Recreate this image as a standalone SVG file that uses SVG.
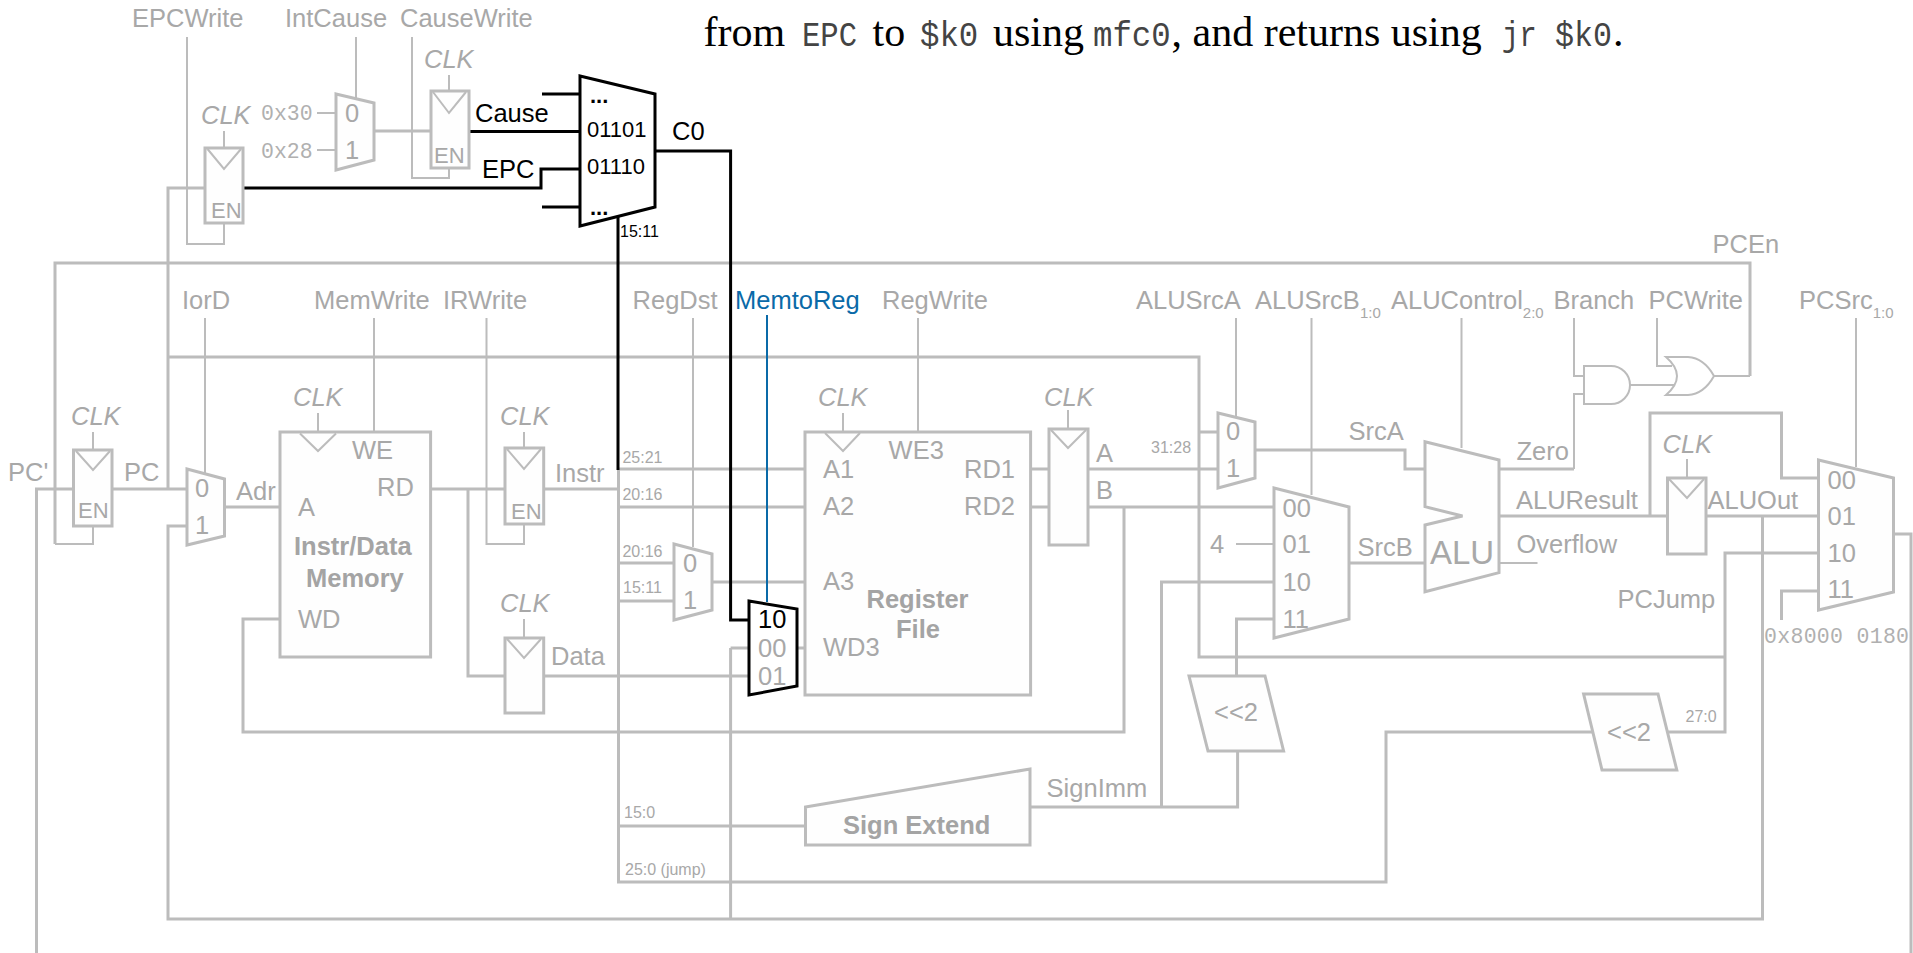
<svg xmlns="http://www.w3.org/2000/svg" width="1913" height="953" viewBox="0 0 1913 953">
<style>
text{font-family:"Liberation Sans",Arial,sans-serif;font-size:25.5px;fill:#a8a8a8}
.b{font-weight:bold;fill:#a4a4a4}
.i{font-style:italic}
.k{fill:#000}
.s{font-size:16px}
.u{font-size:15px}
.m{font-family:"Liberation Mono",monospace;font-size:21.5px;fill:#b0b0b0}
.n{font-size:22px}
.h{font-family:"Liberation Serif",serif;font-size:42px;fill:#000}
.hm{font-family:"Liberation Mono",monospace;font-size:36px;fill:#444}
.w{fill:none;stroke:#bcbcbc;stroke-width:3}
.c{fill:none;stroke:#bcbcbc;stroke-width:2}
.bk{fill:none;stroke:#000;stroke-width:3}
.sh{fill:#fefefe;stroke:#bcbcbc;stroke-width:3}
.sk{fill:#fff;stroke:#000;stroke-width:3}
.t{fill:none;stroke:#bcbcbc;stroke-width:2}
</style>
<rect width="1913" height="953" fill="#fff"/>
<g id="caption">
<text class="h" x="703.6" y="45.7">from</text>
<text class="hm" transform="translate(802 45.7) scale(.85 1)">EPC</text>
<text class="h" x="872.6" y="45.7">to</text>
<text class="hm" transform="translate(920 45.7) scale(.9 1)">$k0</text>
<text class="h" x="993" y="45.7">using</text>
<text class="hm" transform="translate(1093 45.7) scale(.9 1)">mfc0</text>
<text class="h" x="1171.5" y="45.7">, and returns using</text>
<text class="hm" transform="translate(1501.7 45.7) scale(.81 1)">jr</text>
<text class="hm" transform="translate(1555 45.7) scale(.88 1)">$k0</text>
<text class="h" x="1613" y="45.7">.</text>
</g>
<g id="connectors">
<path class="c" d="M187 37V244H224V224M356 37V98M412 37V178H449V168M224 131V148M449 75V91M93 432V450M55 544H93V526M205 318V473M374 318V432M318 413V432M486.5 318V544H524V524M524 432V448M524 619V638M693 318V547M918 318V432M843 413V432M1068 410V429M1236 318V417M1311.5 318V495M1461.5 318V448M1687 459V478M1856 318V467M1574 318V376H1584M1657 318V366H1672M1630 385H1675M1714 376H1750M317 113H336M317 150H336M1236 544H1274M1499 563H1537.5M1574 469V394H1584"/>
<path class="w" d="M36.5 953V489H73.5M112 489H187M168 489V188H205M374 131H431M187 526H168V919H1762.5V516M224.5 507H280M430.6 489H505M468 489V676H505M543.7 489H618.5M618.5 469V882H1386V732H1592M1667 732H1725V553H1818M618.5 469H805M618.5 507H805M618.5 563H674M618.5 601H674M712 582H805M618.5 826H805M543.7 676H749M730.6 648V919M730.6 648H749M797 648H805M280 619H243V732H1124V507M1030.6 469H1049M1030.6 507H1049M1088 469H1218M1088 507H1274M1750 376V263H55V544M168 357H1199V657H1725M1199 432H1218M1255 450H1405V469H1425M1349 563H1425M1161.5 807V582H1274M1236.5 676V619H1274M1030 807H1237.6V751M1499 469H1574M1499 516H1667.5M1650 516V413H1781.5V478H1818M1706 516H1818M1781.5 620V591H1818M1893.5 534H1911V953"/>
<path d="M767 315V602" fill="none" stroke="#0a6aa8" stroke-width="2"/>
<path class="bk" d="M243 188H541V169H580M469 131.5H580M542 94H580M542 207H580M655 151H730.6V620H749M618 217V470"/>
</g>
<g id="sig-labels">
<text x="132" y="27">EPCWrite</text><text x="285" y="27">IntCause</text><text x="400" y="27">CauseWrite</text>
<text x="182" y="309">IorD</text><text x="314" y="309">MemWrite</text><text x="443" y="309">IRWrite</text>
<text x="632.6" y="309">RegDst</text><text x="735" y="309" style="fill:#0a6aa8">MemtoReg</text><text x="882" y="309">RegWrite</text>
<text x="1136" y="309">ALUSrcA</text><text x="1255" y="309">ALUSrcB<tspan class="u" dy="9">1:0</tspan></text><text x="1391" y="309">ALUControl<tspan class="u" dy="9">2:0</tspan></text>
<text x="1553.5" y="309">Branch</text><text x="1648.5" y="309">PCWrite</text><text x="1799" y="309">PCSrc<tspan class="u" dy="9">1:0</tspan></text><text x="1712.5" y="253">PCEn</text>
<text x="8" y="481">PC'</text><text x="124" y="481">PC</text><text x="236" y="500">Adr</text><text x="555" y="482">Instr</text><text x="551" y="665">Data</text>
<text class="s" x="622.4" y="463">25:21</text><text class="s" x="622.4" y="500">20:16</text><text class="s" x="622.4" y="557">20:16</text><text class="s" x="623" y="593">15:11</text><text class="s" x="624" y="818">15:0</text><text class="s" x="625" y="875">25:0 (jump)</text><text class="s" x="1151" y="453">31:28</text><text class="s" x="1685.5" y="722">27:0</text>
<text x="1096" y="462">A</text><text x="1096" y="499">B</text>
<text x="1348.5" y="440">SrcA</text><text x="1357.5" y="556">SrcB</text><text x="1516.5" y="460">Zero</text><text x="1516" y="509">ALUResult</text><text x="1516.5" y="553">Overflow</text><text x="1707.5" y="509">ALUOut</text><text x="1617.5" y="608">PCJump</text><text x="1046.6" y="797">SignImm</text>
<text class="m" x="261" y="120">0x30</text><text class="m" x="261" y="158">0x28</text><text class="m" x="1764" y="643" textLength="145">0x8000 0180</text><text x="1210" y="553">4</text>
</g>
<g id="reg-epc"><rect class="sh" x="205" y="148" width="38" height="75"/><path class="t" d="M207.5 149L224 169L241 149"/><text class="i" x="201" y="124">CLK</text><text class="n" x="211" y="218">EN</text></g>
<g id="mux-intcause"><path class="sh" d="M336 94L374 103V160L336 170Z"/><text x="345" y="122">0</text><text x="345" y="159">1</text></g>
<g id="reg-cause"><rect class="sh" x="431" y="91" width="38" height="77"/><path class="t" d="M433 92L449 113L466 92"/><text class="i" x="424" y="68">CLK</text><text class="n" x="434" y="163">EN</text></g>
<g id="cop0-mux"><path class="sk" d="M580 76L655 94V207L580 226Z"/><text class="k n" x="590" y="103" style="font-weight:bold">...</text><text class="k n" x="590" y="215" style="font-weight:bold">...</text><text class="k" x="587" y="137" style="font-size:22px">01101</text><text class="k" x="587" y="174" style="font-size:22px">01110</text><text class="k s" x="620" y="237">15:11</text></g>
<text class="k" x="475" y="122">Cause</text><text class="k" x="482" y="178">EPC</text><text class="k" x="672" y="140">C0</text>
<g id="reg-pc"><rect class="sh" x="73.5" y="450" width="38.5" height="76"/><path class="t" d="M76 451L93 470L110 451"/><text class="i" x="71" y="425">CLK</text><text class="n" x="78" y="518">EN</text></g>
<g id="mux-iord"><path class="sh" d="M187 469L224.5 479V536L187 545Z"/><text x="195" y="497">0</text><text x="195" y="534">1</text></g>
<g id="memory"><rect class="sh" x="280" y="432" width="150.6" height="225"/><path class="t" d="M300 433.5L318 451L336 433.5"/><text class="i" x="293" y="406">CLK</text><text x="352" y="459">WE</text><text x="377" y="496">RD</text><text x="298" y="516">A</text><text x="298" y="628">WD</text><text class="b" x="294" y="555">Instr/Data</text><text class="b" x="306" y="587">Memory</text></g>
<g id="reg-instr"><rect class="sh" x="505" y="448" width="38.7" height="76"/><path class="t" d="M507 449L524 469L541 449"/><text class="i" x="500" y="425">CLK</text><text class="n" x="511" y="519">EN</text></g>
<g id="reg-data"><rect class="sh" x="505" y="638" width="38.7" height="75"/><path class="t" d="M507 639L524 658L541 639"/><text class="i" x="500" y="612">CLK</text></g>
<g id="mux-regdst"><path class="sh" d="M674 544L712 554V610L674 620Z"/><text x="683" y="572">0</text><text x="683" y="609">1</text></g>
<g id="regfile"><rect class="sh" x="805" y="432" width="225.6" height="263"/><path class="t" d="M825 433L843 451L860 433"/><text class="i" x="818" y="406">CLK</text><text x="888.6" y="459">WE3</text><text x="823" y="478">A1</text><text x="823" y="515">A2</text><text x="823" y="590">A3</text><text x="823" y="656">WD3</text><text x="964" y="478">RD1</text><text x="964" y="515">RD2</text><text class="b" x="866.5" y="608">Register</text><text class="b" x="896" y="638">File</text></g>
<g id="mux-memtoreg"><path class="sk" d="M749 601L797 609V686L749 695Z"/><text class="k" x="758" y="628">10</text><text x="758" y="657">00</text><text x="758" y="685">01</text></g>
<g id="reg-ab"><rect class="sh" x="1049" y="429" width="39" height="116"/><path class="t" d="M1051 430L1068 448L1086 430"/><text class="i" x="1044" y="406">CLK</text></g>
<g id="mux-alusrca"><path class="sh" d="M1218 413L1255 422V478L1218 488Z"/><text x="1226" y="440">0</text><text x="1226" y="477">1</text></g>
<g id="mux-alusrcb"><path class="sh" d="M1274 488L1349 507V619L1274 638Z"/><text x="1282.5" y="517">00</text><text x="1282.5" y="553">01</text><text x="1282.5" y="591">10</text><text x="1282.5" y="628">11</text></g>
<g id="alu"><path class="sh" d="M1425 441.7L1499 460V572.7L1425 591.7V525L1462.5 516L1425 506.7Z"/><text x="1430" y="564" style="font-size:33px">ALU</text></g>
<g id="and-gate"><path class="t" d="M1584 366H1611A19 19 0 0 1 1611 404H1584Z"/></g>
<g id="or-gate"><path class="t" d="M1666 357Q1688 376 1666 395H1688Q1704 394 1714 376Q1704 358 1688 357Z"/></g>
<g id="reg-aluout"><rect class="sh" x="1667.5" y="478" width="38.5" height="76"/><path class="t" d="M1669 479L1687 498L1704 479"/><text class="i" x="1662.5" y="452.7">CLK</text></g>
<g id="mux-pcsrc"><path class="sh" d="M1818.5 460L1893.5 478V592L1818.5 610Z"/><text x="1827.5" y="489">00</text><text x="1827.5" y="525">01</text><text x="1827.5" y="562">10</text><text x="1827.5" y="598">11</text></g>
<g id="shift-imm"><path class="sh" d="M1189 676H1265L1283.6 751H1208Z"/><text x="1214" y="721">&lt;&lt;2</text></g>
<g id="shift-jump"><path class="sh" d="M1583.6 694H1658L1676.8 770H1602Z"/><text x="1607" y="741">&lt;&lt;2</text></g>
<g id="sign-extend"><path class="sh" d="M805.5 807L1030 769V845H805.5Z"/><text class="b" x="843" y="834">Sign Extend</text></g>
</svg>
